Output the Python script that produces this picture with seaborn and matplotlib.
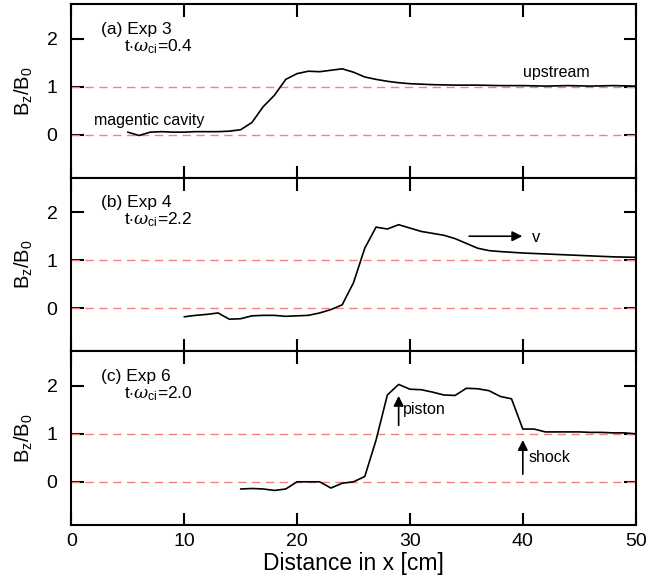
import matplotlib
matplotlib.use("Agg")
import matplotlib.pyplot as plt
import seaborn as sns
import pandas as pd

# Panel (a) Exp 3
x_a = [5, 6, 7, 8, 9, 10, 11, 12, 13, 14, 15, 16, 17, 18, 19, 20, 21, 22, 23, 24,
       25, 26, 27, 28, 29, 30, 32, 34, 36, 38, 40, 42, 44, 46, 48, 50]
y_a = [0.05, -0.02, 0.05, 0.06, 0.05, 0.05, 0.06, 0.06, 0.06, 0.07, 0.1, 0.25, 0.58,
       0.82, 1.15, 1.27, 1.32, 1.31, 1.34, 1.37, 1.3, 1.2, 1.15, 1.11, 1.08, 1.06,
       1.04, 1.03, 1.03, 1.02, 1.02, 1.01, 1.02, 1.01, 1.02, 1.01]

# Panel (b) Exp 4
x_b = [10, 11, 12, 13, 14, 15, 16, 17, 18, 19, 20, 21, 22, 23, 24, 25, 26, 27, 28,
       29, 30, 31, 32, 33, 34, 35, 36, 37, 38, 40, 42, 44, 46, 48, 50]
y_b = [-0.18, -0.15, -0.13, -0.1, -0.23, -0.22, -0.16, -0.15, -0.15, -0.17, -0.16,
       -0.15, -0.1, -0.03, 0.07, 0.53, 1.25, 1.69, 1.65, 1.74, 1.67, 1.6, 1.56, 1.52,
       1.45, 1.35, 1.25, 1.2, 1.18, 1.15, 1.13, 1.11, 1.09, 1.07, 1.06]

# Panel (c) Exp 6
x_c = [15, 16, 17, 18, 19, 20, 21, 22, 23, 24, 25, 26, 27, 28, 29, 30, 31, 32, 33,
       34, 35, 36, 37, 38, 39, 40, 41, 42, 43, 44, 45, 46, 47, 48, 49, 50]
y_c = [-0.15, -0.14, -0.15, -0.18, -0.15, 0.0, 0.0, 0.0, -0.13, -0.03, 0.0, 0.11,
       0.87, 1.81, 2.03, 1.93, 1.92, 1.87, 1.81, 1.8, 1.95, 1.94, 1.9, 1.78, 1.73,
       1.1, 1.1, 1.04, 1.04, 1.04, 1.04, 1.03, 1.03, 1.02, 1.02, 1.0]

panel_labels = ["(a) Exp 3", "(b) Exp 4", "(c) Exp 6"]
times = ["0.4", "2.2", "2.0"]
ref_levels = [0, 1]

sns.set_style("ticks")
plt.rcParams["font.family"] = ["Liberation Sans", "DejaVu Sans"]
plt.rcParams["mathtext.fontset"] = "custom"
plt.rcParams["mathtext.rm"] = "Liberation Sans"
plt.rcParams["mathtext.it"] = "DejaVu Serif:italic"
plt.rcParams["text.color"] = "black"
plt.rcParams["axes.labelcolor"] = "black"
plt.rcParams["axes.edgecolor"] = "black"
plt.rcParams["xtick.color"] = "black"
plt.rcParams["ytick.color"] = "black"

fig, axes = plt.subplots(3, 1, figsize=(6.48, 5.82), dpi=100, sharex=True)
fig.subplots_adjust(left=0.11, right=0.981, bottom=0.098, top=0.993, hspace=0)

datasets = [(x_a, y_a), (x_b, y_b), (x_c, y_c)]
for ax, (xs, ys), lab, t in zip(axes, datasets, panel_labels, times):
    for lev in ref_levels:
        ax.axhline(lev, color="#f48080", lw=1.0, ls=(0, (6, 4)), zorder=1)
    df = pd.DataFrame({"x": xs, "y": ys})
    sns.lineplot(data=df, x="x", y="y", ax=ax, color="black", lw=1.2, zorder=3)
    ax.set_xlim(0, 50)
    ax.set_ylim(-0.9, 2.72)
    ax.set_yticks([0, 1, 2])
    ax.set_xticks([0, 10, 20, 30, 40, 50])
    ax.tick_params(direction="in", length=9, width=1.5, top=True, right=True,
                   labelsize=14, pad=6)
    ax.tick_params(axis="y", pad=10)
    for s in ax.spines.values():
        s.set_linewidth(1.5)
    ax.set_xlabel("")
    ax.set_ylabel(r"B$_\mathrm{z}$/B$_\mathrm{0}$", fontsize=14.5, labelpad=8)
    ax.text(2.6, 2.2, lab, fontsize=12.5, va="center")
    ax.text(4.7, 1.84, r"t$\cdot\omega_{\mathrm{ci}}$=" + t, fontsize=12.5, va="center")

axes[0].text(2.0, 0.3, "magentic cavity", fontsize=11.5, va="center")
axes[0].text(40, 1.3, "upstream", fontsize=11.5, va="center")

axes[1].annotate("", xy=(40.2, 1.5), xytext=(35, 1.5),
                 arrowprops=dict(arrowstyle="-|>", color="black", lw=1.2,
                                 mutation_scale=15))
axes[1].text(40.8, 1.48, "v", fontsize=12, va="center")

axes[2].annotate("", xy=(29, 1.85), xytext=(29, 1.12),
                 arrowprops=dict(arrowstyle="-|>", color="black", lw=1.2,
                                 mutation_scale=15))
axes[2].text(29.4, 1.5, "piston", fontsize=11.5, va="center")
axes[2].annotate("", xy=(40, 0.93), xytext=(40, 0.1),
                 arrowprops=dict(arrowstyle="-|>", color="black", lw=1.2,
                                 mutation_scale=15))
axes[2].text(40.5, 0.5, "shock", fontsize=11.5, va="center")

axes[2].set_xlabel("Distance in x [cm]", fontsize=16.5, labelpad=1)
for ax in axes[:2]:
    ax.tick_params(labelbottom=False)

fig.savefig("out.png", dpi=100)
